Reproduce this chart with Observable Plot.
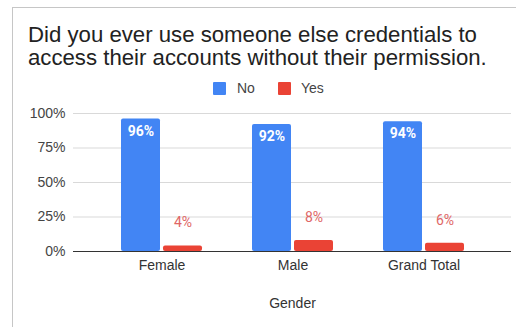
<!DOCTYPE html>
<html>
<head>
<meta charset="utf-8">
<script src="https://cdn.jsdelivr.net/npm/d3@7"></script>
<script src="https://cdn.jsdelivr.net/npm/@observablehq/plot@0.6"></script>
<style>
  html, body { margin: 0; padding: 0; background: #fff; width: 516px; height: 327px; overflow: hidden; }
  #card { position: absolute; left: 12px; top: 7px; width: 600px; height: 400px;
          border-top: 1px solid #c6c6c6; border-left: 1px solid #c6c6c6; }
  #title { position: absolute; left: 28px; top: 23px; font-family: "Liberation Sans", Arial, sans-serif;
           font-size: 22.2px; line-height: 23px; color: #222; white-space: nowrap; }
  #legend { position: absolute; left: 0; top: 80px; width: 516px; height: 16px;
            font-family: "Liberation Sans", Arial, sans-serif; font-size: 14px; color: #444; }
  .sw { position: absolute; top: 2px; width: 13px; height: 13px; border-radius: 1px; }
  .lt { position: absolute; top: 0px; line-height: 16px; }
  #chart { position: absolute; left: 0; top: 100px; }
</style>
</head>
<body>
<div id="card"></div>
<div id="title"></div>
<div id="legend"></div>
<div id="chart"></div>
<script>
const titleLines = ["Did you ever use someone else credentials to", "access their accounts without their permission."];
const categories = ["Female", "Male", "Grand Total"];
const series = ["No", "Yes"];
const noValues = [0.96, 0.92, 0.94];
const yesValues = [0.04, 0.08, 0.06];
const yTicks = [0, 0.25, 0.5, 0.75, 1];
const xAxisLabel = "Gender";
const colors = {No: "#4285f4", Yes: "#ea4335"};

document.getElementById("title").innerHTML = titleLines.join("<br>");

const legend = document.getElementById("legend");
const legendPos = [{sw: 213, t: 237}, {sw: 278, t: 301}];
series.forEach((s, i) => {
  const sw = document.createElement("div");
  sw.className = "sw"; sw.style.left = legendPos[i].sw + "px"; sw.style.background = colors[s];
  const t = document.createElement("div");
  t.className = "lt"; t.style.left = legendPos[i].t + "px"; t.textContent = s;
  legend.appendChild(sw); legend.appendChild(t);
});

const noData = categories.map((c, i) => ({category: c, series: "No", value: noValues[i]}));
const yesData = categories.map((c, i) => ({category: c, series: "Yes", value: yesValues[i]}));
const pct = d3.format(".0%");

const chart = Plot.plot({
  width: 516,
  height: 227,
  marginTop: 13,
  marginBottom: 76,
  marginLeft: 73,
  marginRight: 5,
  style: {fontFamily: "'Liberation Sans', Arial, sans-serif", background: "transparent"},
  x: {domain: categories, range: [96, 489], paddingInner: 50/131, paddingOuter: 25/131, axis: null},
  y: {domain: [0, 1], ticks: yTicks, axis: null},
  marks: [
    Plot.ruleY(yTicks.filter(t => t > 0), {stroke: "#d9d9d9", strokeWidth: 1}),
    Plot.axisY({ticks: yTicks, tickFormat: pct, tickSize: 0, tickPadding: 8, fontSize: 14, fill: "#444", label: null}),
    Plot.barY(noData, {x: "category", y: "value", fill: colors.No, insetRight: 42, rx: 2}),
    Plot.barY(yesData, {x: "category", y: "value", fill: colors.Yes, insetLeft: 42, rx: 2}),
    Plot.ruleY([0], {stroke: "#333", strokeWidth: 1}),
    Plot.text(noData, {x: "category", y: "value", text: d => pct(d.value), dx: -21, dy: 12,
      fill: "#fff", fontWeight: "bold", fontSize: 14, fontFamily: "Roboto, sans-serif"}),
    Plot.text(yesData, {x: "category", y: "value", text: d => pct(d.value), dx: 21, dy: -23,
      fill: "#e06666", fontSize: 14, fontFamily: "Roboto, sans-serif"}),
    Plot.axisX({tickSize: 0, tickPadding: 9, fontSize: 14, fill: "#333", label: null}),
    Plot.text([xAxisLabel], {frameAnchor: "bottom", lineAnchor: "middle", dy: 52, fontSize: 14, fill: "#333"})
  ]
});
document.getElementById("chart").appendChild(chart);
</script>
</body>
</html>
